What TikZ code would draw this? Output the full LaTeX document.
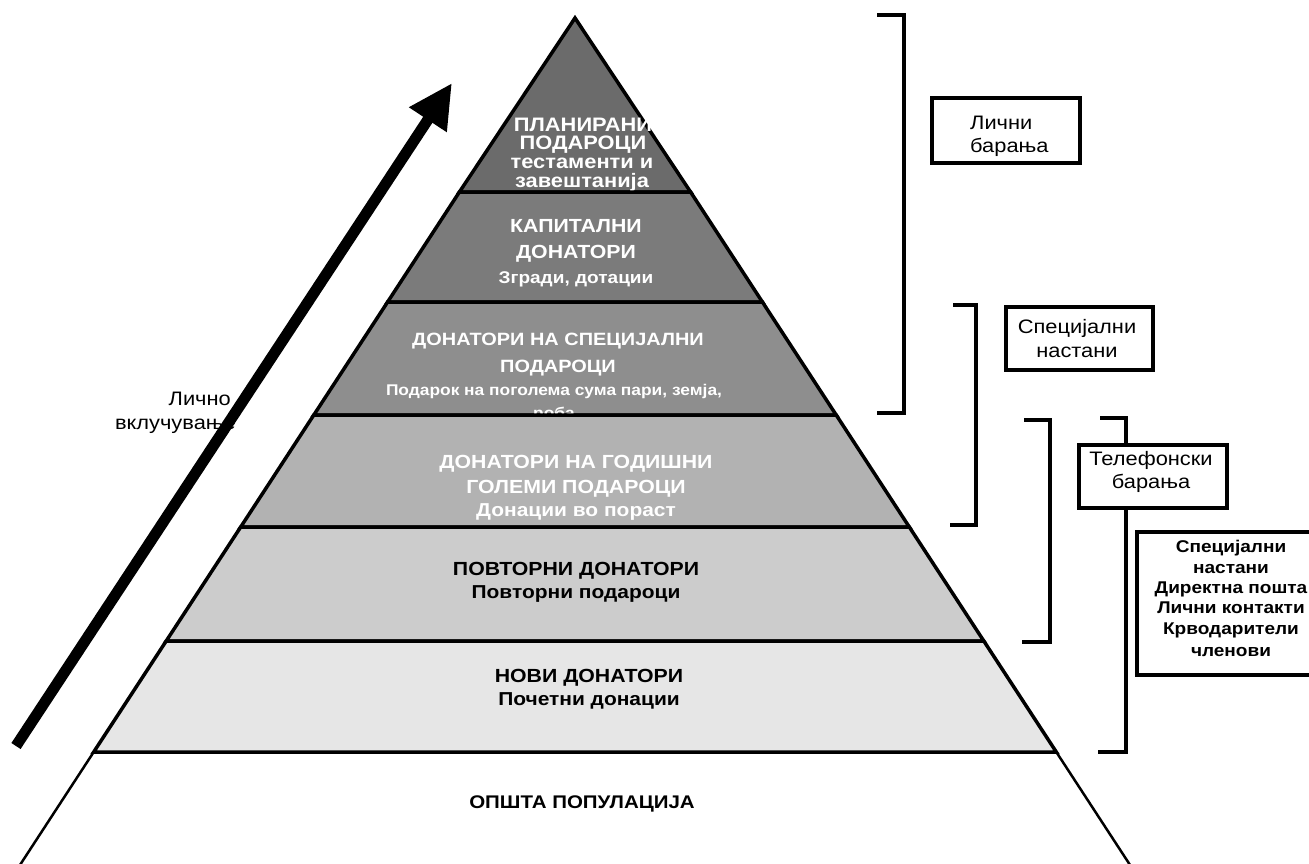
\documentclass[tikz,border=0pt]{standalone}
\usepackage{fontspec}
\setmainfont[FakeStretch=1.12]{Liberation Sans}
\usetikzlibrary{arrows.meta}
\definecolor{bandA}{HTML}{6B6B6B}
\definecolor{bandB}{HTML}{7B7B7B}
\definecolor{bandC}{HTML}{8E8E8E}
\definecolor{bandD}{HTML}{B2B2B2}
\definecolor{bandE}{HTML}{CCCCCC}
\definecolor{bandF}{HTML}{E6E6E6}
\begin{document}
\begin{tikzpicture}[x=1pt,y=-1pt,
  band/.style={draw=black, line width=3.5pt, line join=miter},
  lbl/.style={anchor=base, inner sep=0pt},
  ttl/.style={lbl, font=\bfseries\fontsize{19}{23}\selectfont},
  sub/.style={lbl, font=\bfseries\fontsize{18.7}{21}\selectfont},
  ttlw/.style={ttl, text=white},
  subw/.style={sub, text=white},
  topw/.style={lbl, text=white, font=\bfseries\fontsize{19.5}{22}\selectfont},
  plain/.style={inner sep=0pt, font=\fontsize{19.5}{22}\selectfont},
  boxtxt/.style={lbl, font=\bfseries\fontsize{17}{20}\selectfont},
  frame/.style={draw=black, line width=4pt, fill=white, inner sep=0pt},
  brk/.style={draw=black, line width=4pt, line join=miter}]
\useasboundingbox (0,0) rectangle (1309,863);
\clip (0,0) rectangle (1309,863);
% bottom band
\fill[white] (93.7,752) -- (1056.3,752) -- (1133.3,870) -- (16.7,870) -- cycle;
\draw[line width=2.5pt] (93.7,752) -- (16.7,870);
\draw[line width=2.5pt] (1056.3,752) -- (1133.3,870);
\node[ttl, font=\bfseries\fontsize{18.3}{22}\selectfont] (pop) at (582,808) {ОПШТА ПОПУЛАЦИЈА};
% band 1
\filldraw[band, fill=bandA] (575,18) -- (690.6,192) -- (459.4,192) -- cycle;
\node[topw] (a1) at (583,131) {ПЛАНИРАНИ};
\node[topw] (a2) at (583,149) {ПОДАРОЦИ};
\node[topw] (a3) at (582,168) {тестаменти и};
\node[topw] (a4) at (582,187) {завештанија};
% band 2
\filldraw[band, fill=bandB] (459.4,192) -- (690.6,192) -- (762.4,302) -- (387.6,302) -- cycle;
\node[ttlw] (b1) at (576,232) {КАПИТАЛНИ};
\node[ttlw] (b2) at (576,258) {ДОНАТОРИ};
\node[subw, font=\bfseries\fontsize{17}{21}\selectfont] (b3) at (576,283) {Згради, дотации};
% band 3
\filldraw[band, fill=bandC] (387.6,302) -- (762.4,302) -- (836.2,415) -- (313.8,415) -- cycle;
\node[ttlw, font=\bfseries\fontsize{17.8}{21}\selectfont] (c1) at (558,345) {ДОНАТОРИ НА СПЕЦИЈАЛНИ};
\node[ttlw, font=\bfseries\fontsize{17.8}{21}\selectfont] (c2) at (558,372) {ПОДАРОЦИ};
\node[subw, font=\bfseries\fontsize{15.5}{19}\selectfont] (c3) at (554,395) {Подарок на поголема сума пари, земја,};
\node[subw, font=\bfseries\fontsize{15.5}{19}\selectfont] (c4) at (554,418) {роба};
% band 4
\filldraw[band, fill=bandD] (313.8,415) -- (836.2,415) -- (909.3,527) -- (240.7,527) -- cycle;
\node[ttlw] (d1) at (576,468) {ДОНАТОРИ НА ГОДИШНИ};
\node[ttlw] (d2) at (576,493) {ГОЛЕМИ ПОДАРОЦИ};
\node[subw] (d3) at (576,516) {Донации во пораст};
% band 5
\filldraw[band, fill=bandE] (240.7,527) -- (909.3,527) -- (983.8,641) -- (166.2,641) -- cycle;
\node[ttl] (e1) at (576,575) {ПОВТОРНИ ДОНАТОРИ};
\node[sub] (e2) at (576,598) {Повторни подароци};
% band 6
\filldraw[band, fill=bandF] (166.2,641) -- (983.8,641) -- (1056.3,752) -- (93.7,752) -- cycle;
\node[ttl] (f1) at (589,682) {НОВИ ДОНАТОРИ};
\node[sub] (f2) at (589,705) {Почетни донации};
% left label
\node[plain, anchor=base east] (lich1) at (231,405) {Лично};
\node[plain, anchor=base east] (lich2) at (236,429) {вклучување};
% arrow
\coordinate (arrtail) at (16,746);
\coordinate (arrtip) at (452,83);
\draw[line width=11pt, -{Triangle[length=44pt,width=42pt]}] (arrtail) -- (arrtip);
% bracket 1 and box
\draw[brk] (877,15) -- (904,15) -- (904,413) -- (877,413);
\node[frame, minimum width=148pt, minimum height=65pt] (bx1) at (1006,130.5) {};
\node[plain, anchor=base west] (bx1a) at (970,129) {Лични};
\node[plain, anchor=base west] (bx1b) at (970,152) {барања};
% bracket 2 and box
\draw[brk] (953,305) -- (976,305) -- (976,525) -- (950,525);
\node[frame, minimum width=147pt, minimum height=63pt] (bx2) at (1079.5,338.5) {};
\node[plain, anchor=base] (bx2a) at (1077,333) {Специјални};
\node[plain, anchor=base] (bx2b) at (1077,357) {настани};
% bracket 3
\draw[brk] (1024,420) -- (1050,420) -- (1050,642) -- (1022,642);
% bracket 4 with box
\node[frame, minimum width=148pt, minimum height=63pt] (bx3) at (1153,476.5) {};
\node[plain, anchor=base] (bx3a) at (1151,465) {Телефонски};
\node[plain, anchor=base] (bx3b) at (1151,488) {барања};
\coordinate (b4top) at (1126,418);
\coordinate (b4bot) at (1126,752);
\draw[brk] (1100,418) -- (b4top) -- (bx3.north -| b4top);
\draw[brk] (bx3.south -| b4bot) -- (b4bot) -- (1098,752);
% bold box
\node[frame, minimum width=174pt, minimum height=143pt] (bx4) at (1224,603.5) {};
\node[boxtxt] (g1) at (1231,552) {Специјални};
\node[boxtxt] (g2) at (1231,573) {настани};
\node[boxtxt] (g3) at (1231,593) {Директна пошта};
\node[boxtxt] (g4) at (1231,613) {Лични контакти};
\node[boxtxt] (g5) at (1231,634) {Крводарители};
\node[boxtxt] (g6) at (1231,656) {членови};
\end{tikzpicture}
\end{document}
